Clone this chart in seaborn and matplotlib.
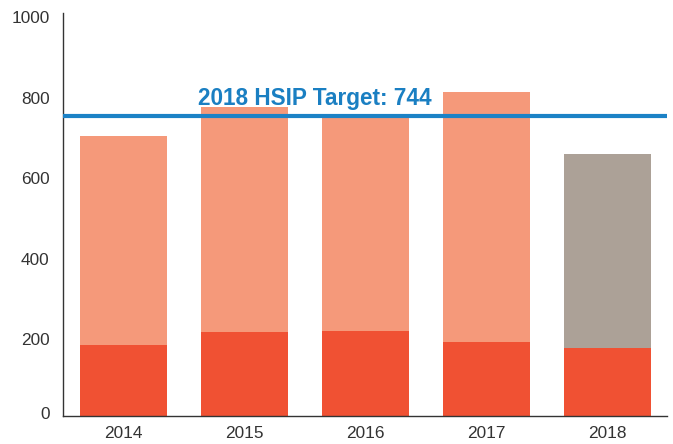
import matplotlib
matplotlib.use("Agg")
import matplotlib.pyplot as plt
import seaborn as sns
import pandas as pd
from matplotlib.transforms import ScaledTranslation

years = ["2014", "2015", "2016", "2017", "2018"]
total = [695, 767, 741, 804, 650]
lower = [176, 208, 211, 184, 169]
target = 744
target_label = "2018 HSIP Target: 744"
y_ticks = [0, 200, 400, 600, 800, 1000]

sns.set_theme(style="white")
plt.rcParams['font.family'] = ['Liberation Sans', 'DejaVu Sans']

W, H = 673, 444
fig = plt.figure(figsize=(W / 100, H / 100), dpi=100)
ax = fig.add_axes([63.3 / W, 28 / H, (666.7 - 63.3) / W, 403 / H])

df = pd.DataFrame({"year": years, "total": total, "lower": lower})
upper_colors = {y: "#F5997A" for y in years}
upper_colors["2018"] = "#ACA197"

sns.barplot(data=df, x="year", y="total", hue="year", palette=upper_colors,
            width=0.716, ax=ax, legend=False, saturation=1, errorbar=None,
            linewidth=0)
sns.barplot(data=df, x="year", y="lower", color="#F05133",
            width=0.716, ax=ax, saturation=1, errorbar=None, linewidth=0)

ax.axhline(target, color="#1C82C6", lw=3, zorder=5)
ax.text(0.62, 771, target_label, color="#1A7FC2", fontsize=16.3,
        fontweight="bold", ha="left", va="baseline", zorder=6)

ax.set_xlim(-0.496, 4.49)
ax.set_ylim(0, 1000)
ax.set_yticks(y_ticks)
ax.set_xlabel("")
ax.set_ylabel("")
ax.tick_params(length=0, labelsize=12.4, labelcolor="#333333")
ax.tick_params(axis="y", pad=10)
ax.tick_params(axis="x", pad=7)

for s in ["top", "right"]:
    ax.spines[s].set_visible(False)
for s in ["left", "bottom"]:
    ax.spines[s].set_color("#333333")
    ax.spines[s].set_linewidth(1.0)

for lab in ax.get_yticklabels():
    dy = 0.03 if lab.get_text() == "0" else -0.04
    lab.set_transform(lab.get_transform() + ScaledTranslation(0, dy, fig.dpi_scale_trans))

fig.savefig("out.png", dpi=100)
